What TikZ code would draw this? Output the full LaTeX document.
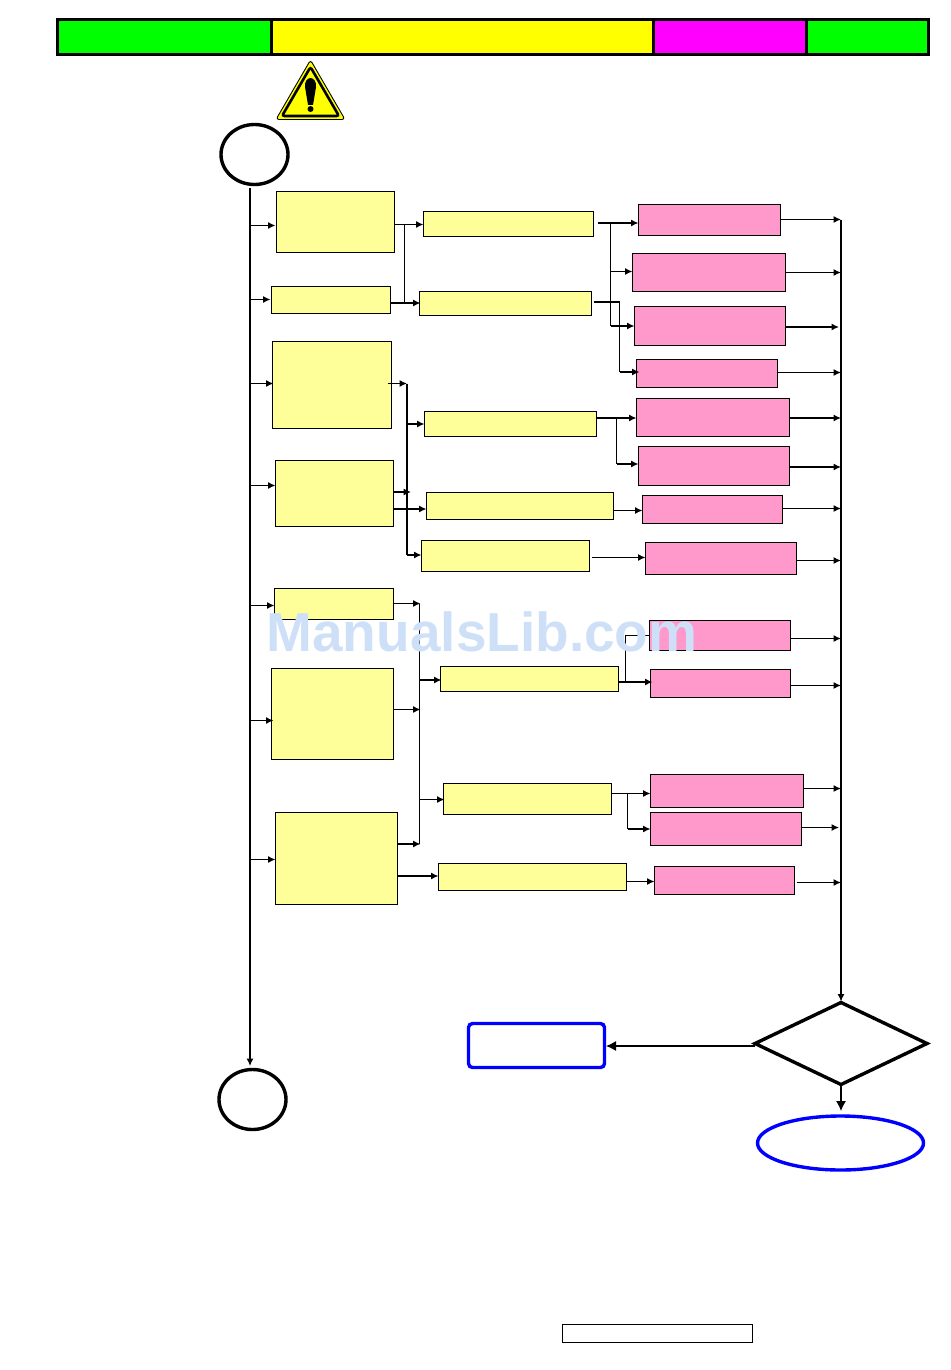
\documentclass[tikz,border=0pt]{standalone}
\usepackage{fontspec}
\setmainfont{Liberation Sans}
\usetikzlibrary{positioning,arrows.meta,shapes.geometric}
\definecolor{boxyellow}{HTML}{FFFF99}
\definecolor{boxpink}{HTML}{FF99CC}
\definecolor{markblue}{HTML}{CEE0F8}
\definecolor{bandgreen}{HTML}{00FF00}
\definecolor{bandyellow}{HTML}{FFFF00}
\definecolor{bandmagenta}{HTML}{FF00FF}
\definecolor{lineblue}{HTML}{0000FF}
\begin{document}
\begin{tikzpicture}[
    x=1pt, y=1pt,
    ybox/.style={rectangle, draw, line width=1.1pt, fill=boxyellow, anchor=north west, inner sep=0pt, outer sep=0pt},
    pbox/.style={rectangle, draw, line width=1.1pt, fill=boxpink, anchor=north west, inner sep=0pt, outer sep=0pt},
    band/.style={rectangle, draw, line width=3.4pt, anchor=north west, inner sep=0pt, outer sep=0pt, minimum height=35pt},
    terminal/.style={ellipse, draw, line width=3.4pt, inner sep=0pt, outer sep=0pt},
    flow/.style={line width=1.2pt, -{Latex[length=7.5pt,width=7pt]}},
    plain/.style={line width=1.2pt},
    bigflow/.style={line width=1.2pt, -{Latex[length=10pt,width=10pt]}}
]
    \useasboundingbox (0,0) rectangle (950,-1370);
    % header band
    \node[band, fill=bandgreen, minimum width=214pt] (bandA) at (57.5,-19.5) {};
    \node[band, fill=bandyellow, minimum width=382pt] (bandB) at (271.5,-19.5) {};
    \node[band, fill=bandmagenta, minimum width=153pt] (bandC) at (653.5,-19.5) {};
    \node[band, fill=bandgreen, minimum width=122pt] (bandD) at (806.5,-19.5) {};
    % warning sign
    \draw[fill=bandyellow, line width=0.9pt, rounded corners=3pt] (310.5,-60) -- (345,-119.5) -- (276,-119.5) -- cycle;
    \draw[line width=2.6pt, rounded corners=2.5pt] (310.5,-67) -- (339,-116) -- (282,-116) -- cycle;
    \fill (310.5,-78) .. controls (314,-78) and (316.5,-82) .. (316,-87) -- (313,-105) -- (308,-105) -- (305,-87) .. controls (304.5,-82) and (307,-78) .. (310.5,-78) -- cycle;
    \fill (310.5,-109) circle (3pt);
    % start and end
    \node[terminal, minimum width=67pt, minimum height=60pt] (start) at (254.5,-154.5) {};
    \node[terminal, minimum width=67pt, minimum height=60pt] (finish) at (252.5,-1099.5) {};
    % left column
    \node[ybox, minimum width=118pt, minimum height=61pt] (yA) at (276.5,-191.5) {};
    \node[ybox, minimum width=119pt, minimum height=27pt] (yB) at (271.5,-286.5) {};
    \node[ybox, minimum width=119pt, minimum height=87pt] (yC) at (272.5,-341.5) {};
    \node[ybox, minimum width=118pt, minimum height=66pt] (yD) at (275.5,-460.5) {};
    \node[ybox, minimum width=119pt, minimum height=31pt] (yE) at (274.5,-588.5) {};
    \node[ybox, minimum width=122pt, minimum height=91pt] (yF) at (271.5,-668.5) {};
    \node[ybox, minimum width=122pt, minimum height=92pt] (yG) at (275.5,-812.5) {};
    % middle column
    \node[ybox, minimum width=170pt, minimum height=25pt] (mA) at (423.5,-211.5) {};
    \node[ybox, minimum width=172pt, minimum height=24pt] (mB) at (419.5,-291.5) {};
    \node[ybox, minimum width=172pt, minimum height=25pt] (mC) at (424.5,-411.5) {};
    \node[ybox, minimum width=187pt, minimum height=27pt] (mD) at (426.5,-492.5) {};
    \node[ybox, minimum width=168pt, minimum height=31pt] (mE) at (421.5,-540.5) {};
    \node[ybox, minimum width=178pt, minimum height=25pt] (mF) at (440.5,-666.5) {};
    \node[ybox, minimum width=168pt, minimum height=31pt] (mG) at (443.5,-783.5) {};
    \node[ybox, minimum width=188pt, minimum height=27pt] (mH) at (438.5,-863.5) {};
    % right column
    \node[pbox, minimum width=142pt, minimum height=31pt] (pA) at (638.5,-204.5) {};
    \node[pbox, minimum width=153pt, minimum height=38pt] (pB) at (632.5,-253.5) {};
    \node[pbox, minimum width=151pt, minimum height=39pt] (pC) at (634.5,-306.5) {};
    \node[pbox, minimum width=141pt, minimum height=28pt] (pD) at (636.5,-359.5) {};
    \node[pbox, minimum width=153pt, minimum height=38pt] (pE) at (636.5,-398.5) {};
    \node[pbox, minimum width=151pt, minimum height=39pt] (pF) at (638.5,-446.5) {};
    \node[pbox, minimum width=140pt, minimum height=28pt] (pG) at (642.5,-495.5) {};
    \node[pbox, minimum width=151pt, minimum height=32pt] (pH) at (645.5,-542.5) {};
    \node[pbox, minimum width=141pt, minimum height=30pt] (pI) at (649.5,-620.5) {};
    \node[pbox, minimum width=140pt, minimum height=28pt] (pJ) at (650.5,-669.5) {};
    \node[pbox, minimum width=153pt, minimum height=33pt] (pK) at (650.5,-774.5) {};
    \node[pbox, minimum width=151pt, minimum height=33pt] (pL) at (650.5,-812.5) {};
    \node[pbox, minimum width=140pt, minimum height=28pt] (pM) at (654.5,-866.5) {};
    % decision and exits
    \node[diamond, draw, line width=3.4pt, inner sep=0pt, outer sep=0pt, minimum width=172pt, minimum height=82pt, aspect=2.1] (check) at (841,-1043.5) {};
    \node[rectangle, draw=lineblue, line width=3.4pt, rounded corners=4pt, anchor=north west, inner sep=0pt, outer sep=0pt, minimum width=136pt, minimum height=44pt] (retry) at (468.5,-1023.5) {};
    \node[ellipse, draw=lineblue, line width=3.4pt, inner sep=0pt, outer sep=0pt, minimum width=166pt, minimum height=54pt] (done) at (840.5,-1143) {};
    \node[rectangle, draw, line width=1.1pt, anchor=north west, inner sep=0pt, outer sep=0pt, minimum width=190pt, minimum height=18pt] (pagebox) at (562.5,-1324.5) {};
    % trunk lines
    \coordinate (spine) at (250,-188);
    \coordinate (spineend) at (250,-1066);
    \coordinate (collect) at (841,-220);
    \draw[flow] (spine) -- (spineend);
    \draw[flow] (collect) -- ([yshift=1pt]check.north);
    % spine to left column
    \draw[flow] (spine |- 0,-225.5) -- ([xshift=-1pt]yA.west |- 0,-225.5);
    \draw[flow] (spine |- 0,-299.5) -- ([xshift=-1pt]yB.west |- 0,-299.5);
    \draw[flow] (spine |- 0,-383.5) -- ([xshift=1pt]yC.west |- 0,-383.5);
    \draw[flow] (spine |- 0,-485.5) -- (yD.west |- 0,-485.5);
    \draw[flow] (spine |- 0,-605.5) -- (yE.west |- 0,-605.5);
    \draw[flow] (spine |- 0,-720.5) -- ([xshift=2pt]yF.west |- 0,-720.5);
    \draw[flow] (spine |- 0,-859.5) -- (yG.west |- 0,-859.5);
    % left to middle
    \coordinate (jA) at (404.5,-224.5);
    \coordinate (jB) at (404.5,-303);
    \draw[plain] (jA) -- (jB);
    \draw[flow] (yA.east |- jA) -- (mA.west |- jA);
    \draw[flow] (yB.east |- jB) -- ([xshift=1pt]mB.west |- jB);
    \coordinate (jC) at (407,-383.5);
    \coordinate (jD) at (407,-555);
    \draw[plain] (jC) -- (jD);
    \draw[flow] ([xshift=-4pt]yC.east |- jC) -- (jC);
    \draw[flow] (jC |- 0,-424) -- (mC.west |- 0,-424);
    \draw[flow] (yD.east |- 0,-492) -- (411,-492);
    \draw[flow] (yD.east |- 0,-509) -- (mD.west |- 0,-509);
    \draw[flow] (jD) -- (mE.west |- jD);
    \coordinate (jE) at (419.5,-603.5);
    \coordinate (jF) at (419.5,-844);
    \draw[plain] (jE) -- (jF);
    \draw[flow] (yE.east |- jE) -- ([xshift=1pt]jE);
    \draw[flow] (yF.east |- 0,-709.5) -- ([xshift=1pt]jE |- 0,-709.5);
    \draw[flow] (yG.east |- jF) -- ([xshift=1pt]jF);
    \draw[flow] (jE |- 0,-680) -- ([xshift=1pt]mF.west |- 0,-680);
    \draw[flow] (jE |- 0,-799.5) -- ([xshift=1pt]mG.west |- 0,-799.5);
    \draw[flow] (yG.east |- 0,-876) -- (mH.west |- 0,-876);
    % middle to right
    \coordinate (kA) at (610.5,-223);
    \draw[plain] (kA) -- (kA |- 0,-326);
    \draw[flow] ([xshift=4pt]mA.east |- kA) -- (pA.west |- kA);
    \draw[flow] (kA |- 0,-271.5) -- (pB.west |- 0,-271.5);
    \draw[flow] (kA |- 0,-326) -- (pC.west |- 0,-326);
    \coordinate (kB) at (619.5,-302);
    \draw[plain] ([xshift=2pt]mB.east |- kB) -- (kB) -- (kB |- 0,-372);
    \draw[flow] (kB |- 0,-372) -- ([xshift=3pt]pD.west |- 0,-372);
    \coordinate (kC) at (616.5,-418);
    \draw[plain] (kC) -- (kC |- 0,-464);
    \draw[flow] (mC.east |- kC) -- (pE.west |- kC);
    \draw[flow] (kC |- 0,-464) -- (pF.west |- 0,-464);
    \draw[flow] (mD.east |- 0,-510.5) -- (pG.west |- 0,-510.5);
    \draw[flow] ([xshift=2pt]mE.east |- 0,-557.5) -- (pH.west |- 0,-557.5);
    \coordinate (kD) at (625.5,-682);
    \draw[plain] (kD) -- (kD |- 0,-635.5) -- (pI.west |- 0,-635.5);
    \draw[flow] (mF.east |- kD) -- ([xshift=2pt]pJ.west |- kD);
    \coordinate (kE) at (627.5,-793.5);
    \draw[plain] (kE) -- (kE |- 0,-829);
    \draw[flow] (mG.east |- kE) -- (pK.west |- kE);
    \draw[flow] (kE |- 0,-829) -- (pL.west |- 0,-829);
    \draw[flow] (mH.east |- 0,-881.5) -- (pM.west |- 0,-881.5);
    % right to collector
    \draw[flow] (pA.east |- 0,-219.5) -- (collect |- 0,-219.5);
    \draw[flow] (pB.east |- 0,-272.5) -- (collect |- 0,-272.5);
    \draw[flow] (pC.east |- 0,-327) -- ([xshift=-2pt]collect |- 0,-327);
    \draw[flow] (pD.east |- 0,-372.5) -- (collect |- 0,-372.5);
    \draw[flow] (pE.east |- 0,-418) -- (collect |- 0,-418);
    \draw[flow] (pF.east |- 0,-467) -- (collect |- 0,-467);
    \draw[flow] (pG.east |- 0,-508.5) -- (collect |- 0,-508.5);
    \draw[flow] (pH.east |- 0,-560.5) -- (collect |- 0,-560.5);
    \draw[flow] (pI.east |- 0,-638.5) -- (collect |- 0,-638.5);
    \draw[flow] (pJ.east |- 0,-685.5) -- (collect |- 0,-685.5);
    \draw[flow] (pK.east |- 0,-788.5) -- (collect |- 0,-788.5);
    \draw[flow] (pL.east |- 0,-827.5) -- ([xshift=-2pt]collect |- 0,-827.5);
    \draw[flow] ([xshift=2pt]pM.east |- 0,-882.5) -- (collect |- 0,-882.5);
    % exits
    \draw[bigflow] (check.west |- 0,-1046) -- ([xshift=1.5pt]retry.east |- 0,-1046);
    \draw[bigflow] (check.south) -- (check.south |- 0,-1111);
    % watermark
    \node[font=\fontsize{55}{55}\selectfont\bfseries, text=markblue, inner sep=0pt] (mark) at (482,-632) {ManualsLib.com};
\end{tikzpicture}
\end{document}
